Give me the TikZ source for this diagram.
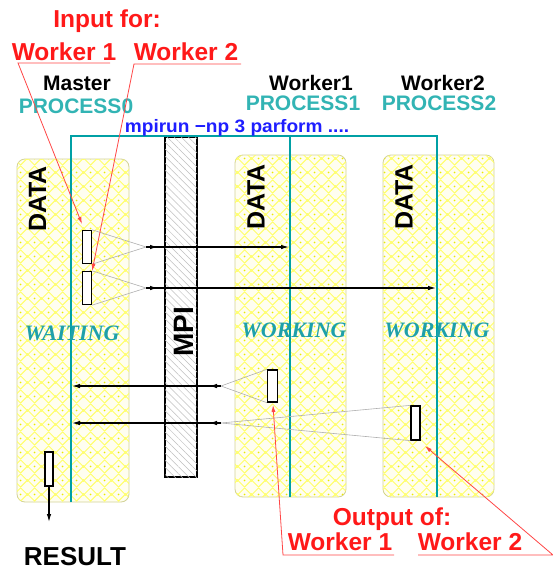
\documentclass[tikz,border=0pt]{standalone}
\usepackage{fontspec}
\usepackage{graphicx}
\setmainfont{Liberation Sans}
\newfontfamily\labelserif{Liberation Serif}
\usetikzlibrary{arrows.meta,patterns,patterns.meta,decorations.markings}

\definecolor{tealline}{RGB}{0,160,165}
\definecolor{proctext}{RGB}{50,180,180}
\definecolor{statetext}{RGB}{30,160,170}
\definecolor{redtext}{RGB}{255,25,25}
\definecolor{redline}{RGB}{255,70,70}
\definecolor{cmdblue}{RGB}{30,30,255}
\definecolor{panelborder}{RGB}{210,210,150}
\definecolor{hatchline}{RGB}{255,255,105}
\definecolor{hatchdot}{RGB}{235,235,0}
\definecolor{fanline}{RGB}{175,175,175}

% diagonal yellow cross-hatch with a dot in every other cell
\pgfdeclarepatterninherentlycolored{panelhatch}
{\pgfpointorigin}{\pgfqpoint{14pt}{14pt}}{\pgfqpoint{14pt}{14pt}}
{
  \pgfsetstrokecolor{hatchline}
  \pgfsetlinewidth{1pt}
  \pgfpathmoveto{\pgfqpoint{0pt}{7pt}}
  \pgfpathlineto{\pgfqpoint{7pt}{0pt}}
  \pgfpathlineto{\pgfqpoint{14pt}{7pt}}
  \pgfpathlineto{\pgfqpoint{7pt}{14pt}}
  \pgfpathclose
  \pgfusepath{stroke}
  \pgfsetfillcolor{hatchdot}
  \pgfpathcircle{\pgfqpoint{7pt}{7pt}}{1pt}
  \pgfusepath{fill}
}

\tikzset{
  panel/.style={draw=panelborder, line width=0.8pt, rounded corners=8pt,
    fill=yellow!6, postaction={pattern=panelhatch}, inner sep=0pt},
  mpibar/.style={draw=black, line width=1.4pt, fill=white,
    postaction={pattern={Lines[angle=-45,distance=5pt,line width=0.5pt]}, pattern color=gray!50},
    inner sep=0pt, minimum width=32pt, minimum height=340pt},
  databox/.style={draw=black, line width=1.3pt, fill=white, inner sep=0pt,
    minimum width=9pt, minimum height=33pt},
  procline/.style={draw=tealline, line width=1.4pt},
  fan/.style={draw=fanline, line width=0.6pt},
  tipshape/.style={-{Latex[length=8pt,width=4.5pt]}},
  flow/.style={draw=black, line width=1.1pt, tipshape,
    postaction={decorate},
    decoration={markings, mark=at position 12pt with {\arrow{Latex[length=8pt,width=4.5pt]}}}},
  callout/.style={draw=redline, line width=0.8pt, -{Latex[length=7pt,width=4pt]}},
  redlab/.style={text=redtext, font=\fontsize{24.5}{25}\selectfont\bfseries, inner sep=0pt, anchor=base},
  rolelab/.style={text=black, font=\fontsize{21}{21}\selectfont\bfseries, inner sep=0pt, anchor=base},
  proclab/.style={text=proctext, font=\fontsize{21}{22}\selectfont\bfseries, inner sep=0pt, anchor=base},
  datalab/.style={text=black, font=\fontsize{25}{25}\selectfont\bfseries, inner sep=0pt, rotate=90},
  statelab/.style={text=statetext, font=\labelserif\fontsize{22}{22}\selectfont\bfseries\itshape, inner sep=0pt, anchor=base},
}

\begin{document}
\begin{tikzpicture}[x=1pt, y=-1pt]
\useasboundingbox (0,0) rectangle (553,571);

% process panels
\node[panel, minimum width=112pt, minimum height=343pt] (p0) at (73,330.5) {};
\node[panel, minimum width=111pt, minimum height=342pt] (p1) at (290.5,326) {};
\node[panel, minimum width=111pt, minimum height=342pt] (p2) at (438.5,326) {};

% MPI layer
\node[mpibar] (mpi) at (181,307) {};
\node[text=black, font=\fontsize{28}{28}\selectfont\bfseries, inner sep=0pt, rotate=90] (mpilab) at (184,332) {MPI};

% mpirun process tree
\coordinate (t0) at (71,136);
\coordinate (t1) at (290,136);
\coordinate (t2) at (437,136);
\coordinate (b0) at (71,502);
\coordinate (b1) at (290,497);
\coordinate (b2) at (437,497);
\draw[procline] (b0) -- (t0) -- (t2) -- (b2);
\draw[procline] (t1) -- (b1);

% headings
\node[redlab] (inputfor) at (107,27) {Input for:};
\node[redlab] (in1) at (64,60) {Worker 1};
\node[redlab] (in2) at (186,60) {Worker 2};
\node[rolelab] (master) at (77,90) {Master};
\node[rolelab] (worker1) at (311,90) {Worker1};
\node[rolelab] (worker2) at (443,90) {Worker2};
\node[proclab] (proc0) at (76,113) {PROCESS0};
\node[proclab] (proc1) at (303,110) {PROCESS1};
\node[proclab] (proc2) at (439,110) {PROCESS2};
\node[text=cmdblue, font=\fontsize{18}{18}\selectfont\bfseries, inner sep=0pt, anchor=base] (cmd) at (237,132)
  {\scalebox{1.06}[1]{mpirun \textminus np 3 parform ....}};

% panel labels
\node[datalab] (data0) at (37.5,199) {DATA};
\node[datalab] (data1) at (256,197) {DATA};
\node[datalab] (data2) at (404,197) {DATA};
\node[statelab] (wait0) at (72,340) {WAITING};
\node[statelab] (work1) at (294,337) {WORKING};
\node[statelab] (work2) at (437,337) {WORKING};

% data blocks
\node[databox] (ra) at (87,247) {};
\node[databox] (rb) at (87,288) {};
\node[databox, minimum width=10pt, minimum height=32pt] (rc) at (272.5,386) {};
\node[databox, minimum height=34pt] (rd) at (415.5,423) {};
\node[databox, minimum width=8pt, minimum height=34pt] (re) at (49,469) {};

% sends from the master
\coordinate (f1) at (146,247);
\coordinate (f2) at (146,288);
\draw[fan] (ra.north east) -- (f1) -- (ra.south east);
\draw[fan] (rb.north east) -- (f2) -- (rb.south east);
\draw[flow, shorten >=1pt] (f1) -- (t1 |- ra);
\draw[flow, shorten >=1pt] (f2) -- (t2 |- rb);

% results returned to the master
\coordinate (f3) at (221,386);
\coordinate (f4) at (221,423);
\draw[fan] (rc.north west) -- (f3) -- (rc.south west);
\draw[fan] (rd.north west) -- (f4) -- (rd.south west);
\draw[flow, shorten >=1pt] (f3) -- (t0 |- rc);
\draw[flow, shorten >=1pt] (f4) -- (t0 |- rd);

% final result
\coordinate (resout) at (49,522);
\draw[draw=black, line width=1.1pt, tipshape] (re.south) -- (resout);
\node[text=black, font=\fontsize{26}{26}\selectfont\bfseries, inner sep=0pt, anchor=base] (result) at (75,565.5) {RESULT};

% output labels
\node[redlab] (outputof) at (392,525) {Output of:};
\node[redlab] (out1) at (340,550) {Worker 1};
\node[redlab] (out2) at (470,550) {Worker 2};

% red call-outs
\coordinate (u1r) at (110,63);
\coordinate (u1l) at (18,63);
\coordinate (tip1) at (82,224);
\draw[callout] (u1r) -- (u1l) -- (tip1);
\coordinate (u2r) at (241,64);
\coordinate (u2l) at (134,64);
\draw[callout] (u2r) -- (u2l) -- (rb.north east);
\coordinate (o1r) at (394,555);
\coordinate (o1l) at (283,555);
\coordinate (tip3) at (273,405);
\draw[callout] (o1r) -- (o1l) -- (tip3);
\coordinate (o2l) at (418,555);
\coordinate (o2r) at (553,555);
\coordinate (tip4) at (425,446);
\draw[callout] (o2l) -- (o2r) -- (tip4);
\end{tikzpicture}
\end{document}
